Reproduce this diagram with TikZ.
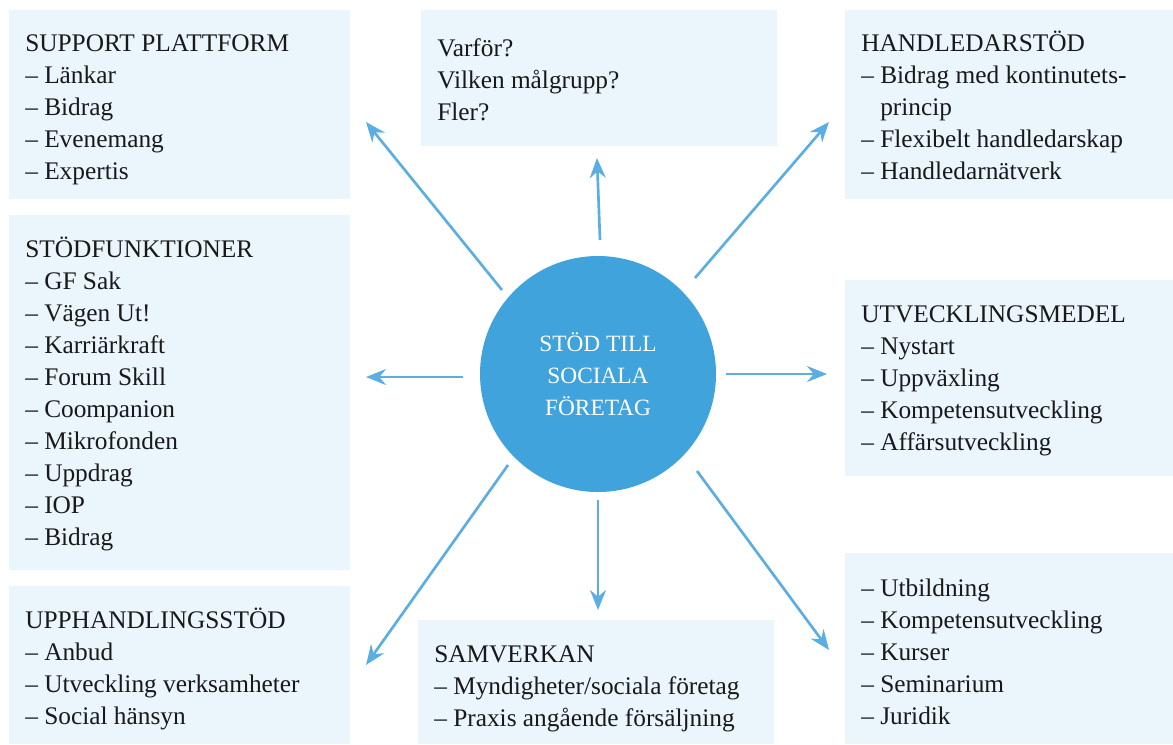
\documentclass[tikz,border=0pt]{standalone}
\usepackage{fontspec}
\setmainfont{Liberation Serif}
\usetikzlibrary{arrows.meta,positioning}
\definecolor{boxblue}{HTML}{EAF5FC}
\definecolor{hubblue}{HTML}{41A3DC}
\definecolor{arrowblue}{HTML}{5BAEE2}
\tikzset{
  boxtext/.style={anchor=north west,inner sep=0pt,align=left,
    font=\fontsize{19}{24}\selectfont,text=black!90},
  hub/.style={circle,fill=hubblue,inner sep=0pt,minimum size=177pt,
    align=center,text=white,font=\fontsize{17.5}{24}\selectfont}
}
\begin{document}
\begin{tikzpicture}[x=0.75pt,y=-0.75pt]
\useasboundingbox (0,0) rectangle (1173,744);
% boxes
\fill[boxblue] (9,10) rectangle (350,199);
\fill[boxblue] (9,215) rectangle (350,570);
\fill[boxblue] (9,586) rectangle (350,744);
\fill[boxblue] (421,10) rectangle (777,146);
\fill[boxblue] (845,10) rectangle (1173,199);
\fill[boxblue] (845,280) rectangle (1173,476);
\fill[boxblue] (845,553) rectangle (1173,744);
\fill[boxblue] (418,620) rectangle (774,744);
% texts
\node[boxtext] (plattform) at (25,28.6) {\strut SUPPORT PLATTFORM\\– Länkar\\– Bidrag\\– Evenemang\\– Expertis};
\node[boxtext] (stod) at (25,234.6) {\strut STÖDFUNKTIONER\\– GF Sak\\– Vägen Ut!\\– Karriärkraft\\– Forum Skill\\– Coompanion\\– Mikrofonden\\– Uppdrag\\– IOP\\– Bidrag};
\node[boxtext] (upphandling) at (25,605.6) {\strut UPPHANDLINGSSTÖD\\– Anbud\\– Utveckling verksamheter\\– Social hänsyn};
\node[boxtext] (varfor) at (437,33.6) {\strut Varför?\\Vilken målgrupp?\\Fler?};
\node[boxtext] (handledar) at (861,28.6) {\strut HANDLEDARSTÖD\\– Bidrag med kontinutets-\\\phantom{– }princip\\– Flexibelt handledarskap\\– Handledarnätverk};
\node[boxtext] (medel) at (861,299.6) {\strut UTVECKLINGSMEDEL\\– Nystart\\– Uppväxling\\– Kompetensutveckling\\– Affärsutveckling};
\node[boxtext] (utbildning) at (861,573.6) {\strut – Utbildning\\– Kompetensutveckling\\– Kurser\\– Seminarium\\– Juridik};
\node[boxtext] (samverkan) at (434,639.6) {\strut SAMVERKAN\\– Myndigheter/sociala företag\\– Praxis angående försäljning};
% centre
\node[hub] (center) at (598,374) {STÖD TILL\\SOCIALA\\FÖRETAG};
% arrow ends
\coordinate (s1) at (600,240); \coordinate (t1) at (597,158);
\coordinate (s2) at (502,290); \coordinate (t2) at (366,122);
\coordinate (s3) at (463,377); \coordinate (t3) at (366,377);
\coordinate (s4) at (508,465); \coordinate (t4) at (366,665);
\coordinate (s5) at (598,500); \coordinate (t5) at (598,610);
\coordinate (s6) at (697,471); \coordinate (t6) at (829,650);
\coordinate (s7) at (726,374); \coordinate (t7) at (827,374);
\coordinate (s8) at (695,278); \coordinate (t8) at (829,122);
\begin{scope}[every edge/.style={draw=arrowblue,line width=2pt,
    -{Stealth[length=15pt,width=12pt,inset=5pt]}}]
  \foreach \i in {1,...,8}
    \path (s\i) edge (t\i);
\end{scope}
\end{tikzpicture}
\end{document}
